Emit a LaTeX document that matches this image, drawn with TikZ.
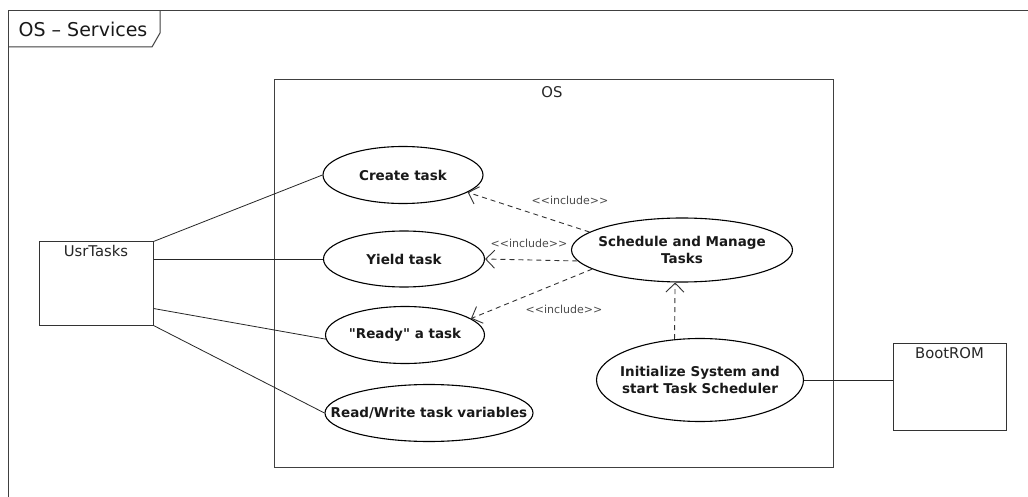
\documentclass[tikz,border=0pt]{standalone}
\usepackage{fontspec}
\setmainfont{DejaVu Sans}[Ligatures=TeXOff]
\usetikzlibrary{shapes.geometric,arrows.meta,calc}
\begin{document}
\begin{tikzpicture}[x=1pt,y=-1pt,
  frameline/.style={draw=black!75, line width=1pt},
  uc/.style={ellipse, draw, line width=1.1pt, inner sep=0pt},
  uctext/.style={font=\fontsize{13.5}{16.5}\selectfont\bfseries, text=black!90, align=center, inner sep=0pt},
  actor/.style={draw=black!80, line width=1pt, inner sep=0pt},
  plain/.style={font=\fontsize{14.8}{17}\selectfont, text=black!85, inner sep=0pt},
  assoc/.style={line width=0.8pt, draw=black!85},
  incl/.style={line width=0.9pt, draw=black!80, dash pattern=on 5pt off 4pt, -{Straight Barb[length=9pt,width=18pt,line width=0.9pt]}},
  incllabel/.style={font=\fontsize{11}{12}\selectfont, text=black!70, inner sep=0pt}
]
\useasboundingbox (0,0) rectangle (1028,497);
\fill[white] (0,0) rectangle (1028,497);
% outer frame
\draw[frameline] (8,497) -- (8,11) -- (1028,11);
\draw[frameline] (8,47) -- (152,47) -- (160,33) -- (160,11);
\node[font=\fontsize{19}{22}\selectfont, text=black!90, inner sep=0pt] (ftitle) at (83,29) {OS – Services};
% OS boundary
\draw[frameline] (274,80) rectangle (833,467);
\node[plain] (ostitle) at (552,92) {OS};
% actors
\node[actor, minimum width=114pt, minimum height=83pt] (usr) at (96,283.5) {};
\node[plain, below=4pt] (usrt) at (usr.north) {UsrTasks};
\node[actor, minimum width=113pt, minimum height=87pt] (boot) at (949.5,386.5) {};
\node[plain, below=5pt] (bootl) at (boot.north) {BootROM};
% use cases
\node[uc, minimum width=160pt, minimum height=57pt] (create) at (403,175) {};
\node[uctext] (createl) at (create) {Create task};
\node[uc, minimum width=161pt, minimum height=56pt] (yield) at (404,259) {};
\node[uctext] (yieldl) at (yield) {Yield task};
\node[uc, minimum width=159pt, minimum height=57pt] (ready) at (405,335) {};
\node[uctext] (readyl) at (ready) {"Ready" a task};
\node[uc, minimum width=208pt, minimum height=57pt] (rw) at (429,413) {};
\node[uctext] (rwl) at (rw) {Read/Write task variables};
\node[uc, minimum width=221pt, minimum height=64pt] (sched) at (682,250) {};
\node[uctext] (schedl) at (sched) {Schedule and Manage\\Tasks};
\node[uc, minimum width=207pt, minimum height=83pt] (init) at (700,380) {};
\node[uctext] (initl) at (init) {Initialize System and\\start Task Scheduler};
% associations
\draw[assoc] (usr.north east) -- (create.west);
\draw[assoc] (usr.east |- yield.west) -- (yield.west);
\draw[assoc] ($(usr.south east)+(0,-17)$) -- (ready.183);
\draw[assoc] (usr.south east) -- (rw.west);
\draw[assoc] (init.east) -- (init.east -| boot.west);
% includes
\draw[incl] (sched.169) -- (create.-15);
\draw[incl] (sched.186) -- (yield.east);
\draw[incl] (sched.192) -- (ready.14);
\draw[incl] (init.122) -- (sched.258);
\node[incllabel] (l1) at (570,200) {<<include>>};
\node[incllabel] (l2) at (529,243) {<<include>>};
\node[incllabel] (l3) at (564,309) {<<include>>};
\end{tikzpicture}
\end{document}
